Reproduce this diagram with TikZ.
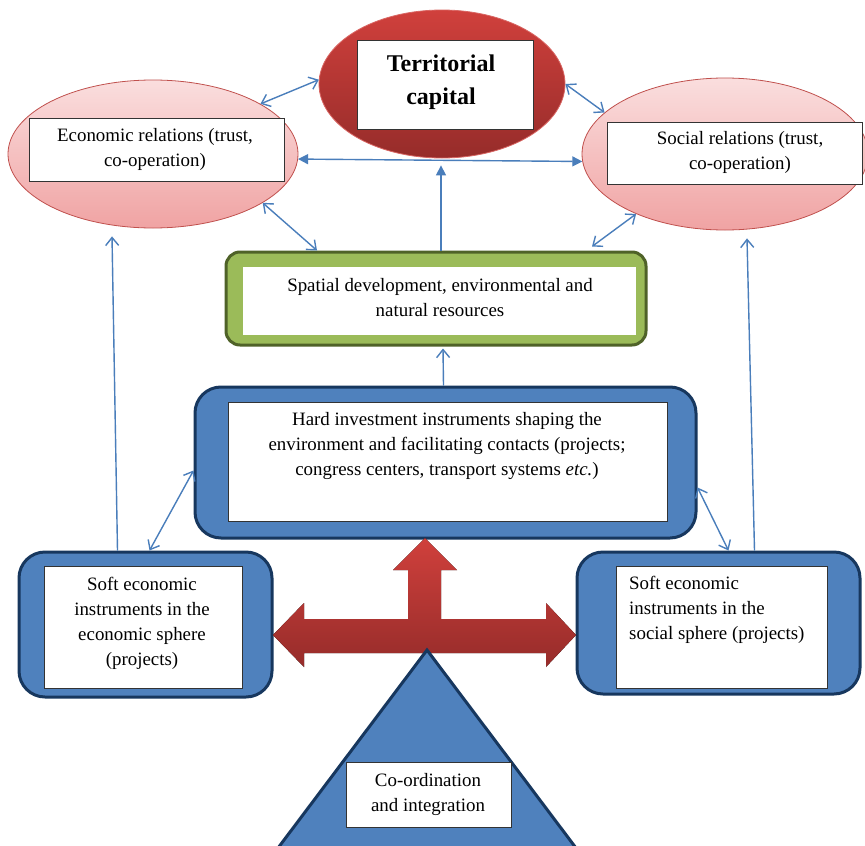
\documentclass[tikz,border=0pt]{standalone}
\usepackage{fontspec}
\setmainfont{Liberation Serif}
\usetikzlibrary{shapes.geometric,arrows.meta}
\definecolor{arrowblue}{RGB}{74,126,187}
\definecolor{boxblue}{RGB}{79,129,189}
\definecolor{navy}{RGB}{23,55,94}
\definecolor{boxgreen}{RGB}{155,187,89}
\definecolor{olive}{RGB}{79,98,40}
\definecolor{pinktop}{RGB}{250,222,222}
\definecolor{pinkbot}{RGB}{240,163,163}
\definecolor{pinkline}{RGB}{192,80,77}
\definecolor{redtop}{RGB}{208,64,60}
\definecolor{redbot}{RGB}{150,44,42}
\tikzset{
  txt/.style={font=\fontsize{18.9}{25}\selectfont, align=center, inner sep=0pt},
  whitebox/.style={draw=black!80, fill=white, line width=0.8pt, inner sep=0pt},
  bluebox/.style={draw=navy, fill=boxblue, line width=3pt, rounded corners=26pt, inner sep=0pt},
  greenbox/.style={draw=olive, fill=boxgreen, line width=3pt, rounded corners=14pt, inner sep=0pt},
  pinkell/.style={ellipse, draw=pinkline, line width=0.8pt, top color=pinktop, bottom color=pinkbot, inner sep=0pt},
  conn/.style={draw=arrowblue, line width=1.4pt},
  openhead/.style={conn, {Straight Barb[length=8pt,width=13pt]}-{Straight Barb[length=8pt,width=13pt]}},
  openend/.style={conn, -{Straight Barb[length=8pt,width=13pt]}},
  filledend/.style={conn, -{Triangle[length=10pt,width=10pt]}},
  filledboth/.style={conn, {Triangle[length=10pt,width=10pt]}-{Triangle[length=10pt,width=10pt]}},
}
\begin{document}
\begin{tikzpicture}[x=1pt,y=-1pt]
\useasboundingbox (0,0) rectangle (865,846);
\fill[white] (0,0) rectangle (865,846);

% ellipses
\node[pinkell, minimum width=290pt, minimum height=148pt] (L) at (153,154) {};
\node[pinkell, minimum width=286pt, minimum height=152pt] (R) at (725,154) {};
\node[ellipse, draw=redtop!80!white, line width=0.8pt, top color=redtop, bottom color=redbot,
      minimum width=246pt, minimum height=148pt, inner sep=0pt] (T) at (442,84) {};

\node[whitebox, minimum width=255pt, minimum height=63pt] (Lb) at (156.5,149.5) {};
\node[txt] (Lt) at (155,149) {Economic relations (trust,\\co-operation)};
\node[whitebox, minimum width=255pt, minimum height=62pt] (Rb) at (734.5,153) {};
\node[txt] (Rt) at (740,152) {Social relations (trust,\\co-operation)};
\node[whitebox, minimum width=176pt, minimum height=89pt] (Tb) at (445,84.5) {};
\node[txt, font=\fontsize{24}{33}\selectfont\bfseries] (Tt) at (441,82) {Territorial\\capital};

% spatial box
\node[greenbox, minimum width=420pt, minimum height=93pt] (G) at (436,298.5) {};
\node[whitebox, draw=none, minimum width=393pt, minimum height=68pt] (Gb) at (439.5,301) {};
\node[txt] (Gt) at (440,298) {Spatial development, environmental and\\natural resources};

% hard box
\node[bluebox, minimum width=501pt, minimum height=151pt] (H) at (445.5,462.5) {};
\node[whitebox, minimum width=439pt, minimum height=119pt] (Hb) at (447.5,461.5) {};
\node[txt] (Ht) at (447,446) {Hard investment instruments shaping the\\environment and facilitating contacts (projects;\\congress centers, transport systems \textit{etc.})};

% soft boxes
\node[bluebox, minimum width=253pt, minimum height=145pt] (LS) at (145.5,624.5) {};
\node[whitebox, minimum width=198pt, minimum height=122pt] (LSb) at (143,627) {};
\node[txt] (LSt) at (142,623) {Soft economic\\instruments in the\\economic sphere\\(projects)};
\node[bluebox, minimum width=283pt, minimum height=142pt] (RS) at (718.5,623) {};
\node[whitebox, minimum width=211pt, minimum height=122pt] (RSb) at (721.5,627) {};
\node[txt, align=left, anchor=west] (RSt) at (629,610) {Soft economic\\instruments in the\\social sphere (projects)};

% red cross arrow
\fill[top color=redtop, bottom color=redbot]
  (425,538) -- (457,570) -- (441,570) -- (441,619) -- (546,619) -- (546,603) -- (576,635)
  -- (546,667) -- (546,653) -- (304,653) -- (304,667) -- (273,635) -- (304,603) -- (304,619)
  -- (408,619) -- (408,570) -- (393,570) -- cycle;

% triangle
\filldraw[fill=boxblue, draw=navy, line width=3pt, line join=miter] (427,650) -- (579,852) -- (275,852) -- cycle;
\node[whitebox, minimum width=165pt, minimum height=65pt] (Cb) at (428.5,794.5) {};
\node[txt] (Ct) at (428,794) {Co-ordination\\and integration};

% connectors
\draw[openhead] (L.25) -- (T.178);
\draw[openhead] (T.0) -- (R.161);
\draw[filledboth] (L.-2) -- (R.183.5);
\draw[filledend] ([xshift=5pt]G.north) -- ([xshift=-1pt,yshift=-7pt]T.south);
\draw[openhead] (L.-24) -- ([xshift=-119pt]G.north);
\draw[openhead] (R.214.5) -- ([xshift=156pt,yshift=4pt]G.north);
\draw[openend] ([xshift=-2pt]H.north) -- ([xshift=7pt,yshift=-2pt]G.south);
\draw[openhead] ([yshift=-8pt]H.west) -- ([xshift=4pt]LS.north);
\draw[openhead] ([yshift=-25pt]H.east) -- ([xshift=10pt]RS.north);
\draw[openend] ([xshift=-28pt]LS.north) -- ([xshift=-41pt,yshift=-8pt]L.south);
\draw[openend] ([xshift=36pt]RS.north) -- ([xshift=22pt,yshift=-8pt]R.south);
\end{tikzpicture}
\end{document}
